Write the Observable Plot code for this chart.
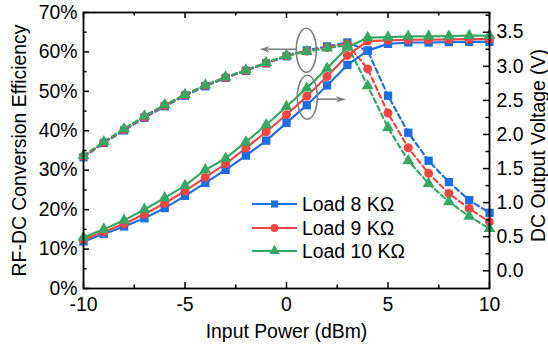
<!DOCTYPE html>
<html><head><meta charset="utf-8">
<script src="https://cdn.jsdelivr.net/npm/d3@7"></script>
<script src="https://cdn.jsdelivr.net/npm/@observablehq/plot@0.6"></script>
<style>body{margin:0;background:#fff} #chart{width:548px;height:347px}</style>
</head><body><div id="chart"></div>
<script>
// ---------- data ----------
const inputPower = [-10,-9,-8,-7,-6,-5,-4,-3,-2,-1,0,1,2,3,4,5,6,7,8,9,10];
const seriesNames = ["Load 8 KΩ","Load 9 KΩ","Load 10 KΩ"];
const seriesColors = ["#1c6fe0","#ef4545","#36a862"];
const seriesSymbols = ["square","circle","triangle"];
// RF-DC conversion efficiency (%), left axis, dashed
const effLoad8  = [33.3,36.9,40.1,43.3,46.2,48.9,51.3,53.4,55.2,57.1,58.9,60.4,61.4,62.4,60.3,48.9,39.5,32.4,27.0,22.4,19.2];
const effLoad9  = [33.5,37.0,40.3,43.5,46.4,49.1,51.5,53.5,55.3,57.2,59.0,60.2,61.1,62.0,55.7,44.5,35.7,29.2,24.1,20.3,16.9];
const effLoad10 = [33.7,37.2,40.5,43.7,46.6,49.2,51.6,53.6,55.4,57.3,59.1,60.1,61.0,61.7,51.4,40.8,32.4,26.6,22.0,18.3,15.2];
// DC output voltage (V), right axis, solid
const voltLoad8  = [0.43,0.54,0.65,0.77,0.92,1.10,1.29,1.48,1.69,1.91,2.17,2.43,2.72,3.02,3.23,3.33,3.35,3.35,3.355,3.36,3.36];
const voltLoad9  = [0.46,0.57,0.69,0.83,0.99,1.17,1.37,1.57,1.80,2.04,2.29,2.56,2.85,3.16,3.37,3.38,3.39,3.39,3.395,3.40,3.40];
const voltLoad10 = [0.49,0.61,0.74,0.90,1.07,1.25,1.48,1.65,1.89,2.14,2.41,2.68,2.97,3.28,3.42,3.43,3.44,3.44,3.445,3.45,3.45];
// axes
const xMajor = [-10,-5,0,5,10];
const xMinor = [-7.5,-2.5,2.5,7.5];
const effDomain = [0,70];
const effMajor = [0,10,20,30,40,50,60,70];
const effMinor = [5,15,25,35,45,55,65];
const voltDomain = [-0.26,3.79];
const voltMajor = [0,0.5,1,1.5,2,2.5,3,3.5];
const voltMinor = [0.25,0.75,1.25,1.75,2.25,2.75,3.25,3.75];
// annotations (data coords)
const ellipseX = [1.0, 1.05];
const ellipseEff = [60.3, null];
const ellipseVolt = [null, 2.54];
const arrowToX = [-1.3, 2.95];

// ---------- helpers ----------
const toLeft = v => (v - voltDomain[0]) / (voltDomain[1] - voltDomain[0]) * (effDomain[1] - effDomain[0]) + effDomain[0];
const fromLeft = e => (e - effDomain[0]) / (effDomain[1] - effDomain[0]) * (voltDomain[1] - voltDomain[0]) + voltDomain[0];

const effSeries = [effLoad8, effLoad9, effLoad10];
const voltSeries = [voltLoad8, voltLoad9, voltLoad10];
const rows = [];
seriesNames.forEach((name, s) => {
  inputPower.forEach((p, i) => {
    rows.push({series: name, s, kind: "eff", p, y: effSeries[s][i]});
    rows.push({series: name, s, kind: "volt", p, y: toLeft(voltSeries[s][i])});
  });
});

const FONT = "'Liberation Sans', Arial, sans-serif";
const FS = 19.4;
const W = 548, H = 347, mL = 83, mR = 59, mT = 12, mB = 59;
const plotW = W - mL - mR, plotH = H - mT - mB;
const majorLen = 6, minorLen = 3.5;
const markerR = {square: 4.7, circle: 4.5, triangle: 4.4};

const dashedLines = [], solidLines = [], dotMarks = [];
seriesNames.forEach((name, s) => {
  const eff = rows.filter(r => r.s === s && r.kind === "eff");
  const volt = rows.filter(r => r.s === s && r.kind === "volt");
  dashedLines.push(Plot.line(eff, {x: "p", y: "y", stroke: seriesColors[s], strokeWidth: 2.2, strokeDasharray: "5,3.5"}));
  solidLines.push(Plot.line(volt, {x: "p", y: "y", stroke: seriesColors[s], strokeWidth: 2.2}));
  const r = markerR[seriesSymbols[s]];
  dotMarks.push(Plot.dot(eff, {x: "p", y: "y", fill: seriesColors[s], symbol: () => seriesSymbols[s], r}));
  dotMarks.push(Plot.dot(volt, {x: "p", y: "y", fill: seriesColors[s], symbol: () => seriesSymbols[s], r}));
});

const plot = Plot.plot({
  width: W, height: H,
  marginLeft: mL, marginRight: mR, marginTop: mT, marginBottom: mB,
  style: {fontFamily: FONT, fontSize: FS + "px", background: "white", color: "black"},
  x: {domain: [-10, 10]},
  y: {domain: effDomain},
  symbol: {type: "identity"},
  marks: [
    ...dashedLines,
    ...solidLines,
    ...dotMarks,
    // inward ticks
    Plot.tickX(xMajor, {x: d => d, insetTop: plotH - majorLen, stroke: "black", strokeWidth: 1.5}),
    Plot.tickX(xMinor, {x: d => d, insetTop: plotH - minorLen, stroke: "black", strokeWidth: 1.5}),
    Plot.tickX(xMajor, {x: d => d, insetBottom: plotH - majorLen, stroke: "black", strokeWidth: 1.5}),
    Plot.tickX(xMinor, {x: d => d, insetBottom: plotH - minorLen, stroke: "black", strokeWidth: 1.5}),
    Plot.tickY(effMajor, {y: d => d, insetRight: plotW - majorLen, stroke: "black", strokeWidth: 1.5}),
    Plot.tickY(effMinor, {y: d => d, insetRight: plotW - minorLen, stroke: "black", strokeWidth: 1.5}),
    Plot.tickY(voltMajor.map(toLeft), {y: d => d, insetLeft: plotW - majorLen, stroke: "black", strokeWidth: 1.5}),
    Plot.tickY(voltMinor.map(toLeft), {y: d => d, insetLeft: plotW - minorLen, stroke: "black", strokeWidth: 1.5}),
    Plot.axisX({anchor: "bottom", ticks: xMajor, tickSize: 0, tickPadding: 9, label: null, fontSize: FS, tickFormat: d => String(d)}),
    Plot.axisY({anchor: "left", ticks: effMajor, tickSize: 0, tickPadding: 6, label: null, fontSize: FS, tickFormat: d => d + "%"}),
    Plot.axisY({anchor: "right", ticks: voltMajor.map(toLeft), tickSize: 0, tickPadding: 7, label: null, fontSize: FS, tickFormat: d => fromLeft(d).toFixed(1)}),
    Plot.frame({stroke: "black", strokeWidth: 1.8}),
    Plot.text(["RF-DC Conversion Efficiency"], {frameAnchor: "left", textAnchor: "middle", rotate: -90, dx: -64, text: d => d, fontSize: FS}),
    Plot.text(["DC Output Voltage (V)"], {frameAnchor: "right", textAnchor: "middle", rotate: -90, dx: 49, dy: -5, text: d => d, fontSize: FS}),
    Plot.text(["Input Power (dBm)"], {frameAnchor: "bottom", textAnchor: "middle", dy: 49, text: d => d, fontSize: FS})
  ]
});

const svg = d3.select(plot);
const xs = plot.scale("x"), ys = plot.scale("y");
const gray = "#808080";
const ann = svg.append("g");
// ellipses + arrows
[0, 1].forEach(k => {
  const cx = xs.apply(ellipseX[k]);
  const cy = ys.apply(k === 0 ? ellipseEff[k] : toLeft(ellipseVolt[k]));
  const rx = 10, ry = 22;
  ann.append("ellipse").attr("cx", cx).attr("cy", cy).attr("rx", rx).attr("ry", ry)
    .attr("fill", "none").attr("stroke", gray).attr("stroke-width", 1.6);
  const ay = cy + (k === 0 ? -1 : 2);
  const x0 = k === 0 ? cx - rx : cx + rx;
  const x1 = xs.apply(arrowToX[k]);
  const dir = Math.sign(x1 - x0);
  const headLen = 10, headW = 3.2;
  ann.append("line").attr("x1", x0).attr("y1", ay).attr("x2", x1 - dir * headLen * 0.8).attr("y2", ay)
    .attr("stroke", gray).attr("stroke-width", 1.6);
  ann.append("path").attr("d", `M${x1},${ay}L${x1 - dir*headLen},${ay - headW}L${x1 - dir*headLen*0.75},${ay}L${x1 - dir*headLen},${ay + headW}Z`)
    .attr("fill", gray);
});
// legend
const leg = svg.append("g").attr("font-family", FONT).attr("font-size", FS).attr("text-anchor", "start");
const legRowY = [204, 228, 251];
seriesNames.forEach((name, s) => {
  const yy = legRowY[s];
  leg.append("line").attr("x1", 252).attr("x2", 297).attr("y1", yy).attr("y2", yy)
    .attr("stroke", seriesColors[s]).attr("stroke-width", 2.2);
  const sym = {square: d3.symbolSquare, circle: d3.symbolCircle, triangle: d3.symbolTriangle}[seriesSymbols[s]];
  const r = 4.0;
  leg.append("path").attr("d", d3.symbol(sym, Math.PI * r * r)()).attr("transform", `translate(274.5,${yy})`)
    .attr("fill", seriesColors[s]);
  leg.append("text").attr("x", 302).attr("y", yy).attr("dy", "0.35em").attr("text-anchor", "start").text(name);
});

document.getElementById("chart").appendChild(plot);
</script>
</body></html>
